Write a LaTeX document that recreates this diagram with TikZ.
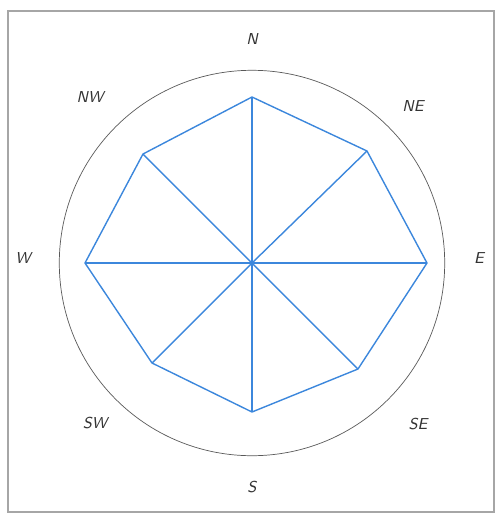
\documentclass[tikz,border=0pt]{standalone}
\usepackage{tikz}
\usetikzlibrary{calc}

\begin{document}
\begin{tikzpicture}[x=0.02cm, y=-0.02cm, font=\sffamily\itshape\small,
  frame/.style={draw=black!35, line width=0.8pt}, rose/.style={draw=black!65, line width=0.4pt},
  oct/.style={draw={rgb,255:red,60;green,135;blue,220}, line width=0.8pt, line join=round},
  lbl/.style={inner sep=1pt, text=black!80}]
  \useasboundingbox (0,0) rectangle (502,515);
  \draw[frame] (8,11) rectangle (494,512);
  \coordinate (c) at (252,263);
  \draw[rose] (c) circle (3.855cm);
  % octagon corners (not quite regular)
  \foreach \n/\x/\y in {N/252/97, NE/367/151, E/427/263, SE/358/369,
                       S/252/412, SW/152/363, W/85/263, NW/143/154}
     \coordinate (v\n) at (\x,\y);
  \draw[oct] (vN)--(vNE)--(vE)--(vSE)--(vS)--(vSW)--(vW)--(vNW)--cycle;
  \foreach \n in {N,NE,E,SE,S,SW,W,NW}{ \draw[oct] (c)--(v\n); }
  % compass labels
  \foreach \n/\x/\y in {N/252/39, NE/413/106, E/479/258, SE/418/424,
                       S/252/487, SW/95/423, W/23/258, NW/90/97}
     \node[lbl](l\n) at (\x,\y){\n};
\end{tikzpicture}
\end{document}
